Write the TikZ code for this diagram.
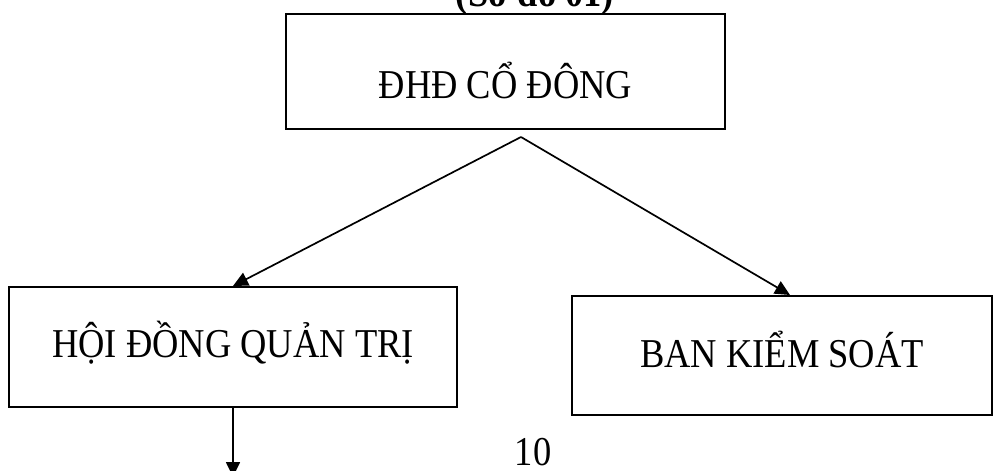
\documentclass[tikz,border=0pt]{standalone}
\usepackage{fontspec}
\setmainfont{Liberation Serif}[FakeStretch=0.89]
\usetikzlibrary{arrows.meta}
\begin{document}
\begin{tikzpicture}[x=1pt,y=-1pt,
  txt/.style={font=\fontsize{41}{48}\selectfont},
  box/.style={draw,line width=2pt,inner sep=0pt,txt},
  conn/.style={line width=1.7pt,-{Triangle[length=15pt,width=14pt]}}]
\useasboundingbox (0,0) rectangle (996,471);
\node[txt,font=\bfseries\fontsize{41}{48}\selectfont,anchor=base] (title) at (535,6) {(Sơ đồ 01)};
\node[box,minimum width=439pt,minimum height=115pt,text height=60pt,text depth=7pt] (dhd) at (505.5,71.5) {ĐHĐ CỔ ĐÔNG};
\node[box,minimum width=448pt,minimum height=120pt,text height=30pt,text depth=10pt] (hdqt) at (233,347) {HỘI ĐỒNG QUẢN TRỊ};
\node[box,minimum width=420pt,minimum height=119pt,text height=33pt,text depth=10pt] (bks) at (782,355.5) {BAN KIỂM SOÁT};
\node[txt,anchor=base,inner sep=0pt] (page) at (533,465) {10};
\coordinate (apex) at ([xshift=15.5pt,yshift=-7pt]dhd.south);
\coordinate (hend) at (233,477);
\draw[conn] (apex) -- (hdqt.north);
\draw[conn] (apex) -- ([xshift=8pt]bks.north);
\draw[conn] (hdqt.south) -- (hend);
\end{tikzpicture}
\end{document}
